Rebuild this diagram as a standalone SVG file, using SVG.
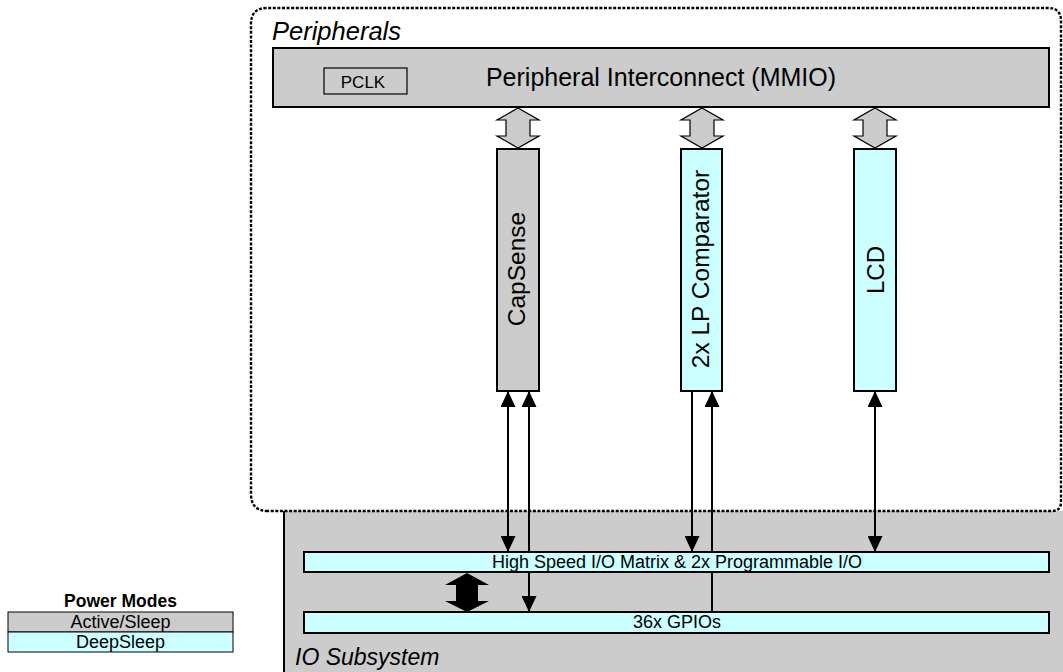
<svg xmlns="http://www.w3.org/2000/svg" width="1063" height="672" viewBox="0 0 1063 672">
<defs>
<marker id="ah" viewBox="0 0 16 16" refX="16" refY="8" markerWidth="16" markerHeight="15" markerUnits="userSpaceOnUse" orient="auto-start-reverse" preserveAspectRatio="none">
<path d="M0,0 L16,8 L0,16 z" fill="#000"/>
</marker>
</defs>
<style>
.gray{fill:#cccccc;stroke:#000;stroke-width:2}
.cyan{fill:#ccffff;stroke:#000;stroke-width:2}
.t{font-family:"Liberation Sans",Arial,sans-serif;fill:#000}
.it{font-family:"Liberation Sans",Arial,sans-serif;font-style:italic;fill:#000}
.conn{stroke:#000;stroke-width:2;fill:none}
.hollow{fill:#cccccc;stroke:#000;stroke-width:1.2}
</style>
<rect width="1063" height="672" fill="#fff"/>

<g id="io-subsystem">
<rect x="284" y="511" width="780" height="162" fill="#cccccc"/>
<line x1="284" y1="511" x2="284" y2="672" stroke="#000" stroke-width="2"/>
<text class="it" x="295" y="665" font-size="23">IO Subsystem</text>
</g>

<g id="peripherals">
<path d="M268,511 Q251,511 251,494 L251,24 Q251,8 267,8 L1048,8 Q1061,8 1061,21 L1061,502 Q1061,511 1052,511 Z" fill="none" stroke="#000" stroke-width="2.4" stroke-dasharray="3,1.6"/>
<text class="it" x="272" y="40" font-size="25.5">Peripherals</text>
</g>

<g id="connectors">
<line class="conn" x1="508" y1="391" x2="508" y2="552" marker-start="url(#ah)" marker-end="url(#ah)"/>
<line class="conn" x1="529" y1="391" x2="529" y2="612" marker-start="url(#ah)" marker-end="url(#ah)"/>
<line class="conn" x1="692" y1="391" x2="692" y2="552" marker-end="url(#ah)"/>
<line class="conn" x1="712" y1="612" x2="712" y2="391" marker-end="url(#ah)"/>
<line class="conn" x1="875" y1="391" x2="875" y2="552" marker-start="url(#ah)" marker-end="url(#ah)"/>
<path class="hollow" d="M518,108 L539,120 L530,120 L530,136 L539,136 L518,148 L497,136 L506,136 L506,120 L497,120 Z"/>
<path class="hollow" d="M702,108 L723,120 L714,120 L714,136 L723,136 L702,148 L681,136 L690,136 L690,120 L681,120 Z"/>
<path class="hollow" d="M875,108 L896,120 L887,120 L887,136 L896,136 L875,148 L854,136 L863,136 L863,120 L854,120 Z"/>
<path d="M467,573 L489,585 L478,585 L478,601 L489,601 L467,612 L445,601 L456,601 L456,585 L445,585 Z" fill="#000"/>
</g>

<g id="interconnect">
<rect class="gray" x="273" y="48" width="776" height="59"/>
<text class="t" x="661" y="86" font-size="25" text-anchor="middle">Peripheral Interconnect (MMIO)</text>
</g>
<g id="pclk">
<rect x="324" y="68" width="83" height="26" fill="none" stroke="#000" stroke-width="1.2"/>
<text class="t" x="363" y="88" font-size="17" text-anchor="middle">PCLK</text>
</g>

<g id="capsense">
<rect class="gray" x="497" y="149" width="42" height="242"/>
<text class="t" font-size="24.5" text-anchor="middle" transform="translate(525,269) rotate(-90)">CapSense</text>
</g>
<g id="lpcomp">
<rect class="cyan" x="681" y="149" width="41" height="242"/>
<text class="t" font-size="24.5" text-anchor="middle" transform="translate(709,269) rotate(-90)">2x LP Comparator</text>
</g>
<g id="lcd">
<rect class="cyan" x="854" y="149" width="42" height="242"/>
<text class="t" font-size="24" text-anchor="middle" transform="translate(884,270) rotate(-90)">LCD</text>
</g>

<g id="hsio">
<rect class="cyan" x="304" y="552" width="745" height="20"/>
<text class="t" x="677" y="568" font-size="18" text-anchor="middle">High Speed I/O Matrix &amp; 2x Programmable I/O</text>
</g>
<g id="gpio">
<rect class="cyan" x="304" y="612" width="745" height="21"/>
<text class="t" x="677" y="628" font-size="18" text-anchor="middle">36x GPIOs</text>
</g>

<g id="legend">
<text class="t" x="120.5" y="607" font-size="17.5" font-weight="bold" text-anchor="middle">Power Modes</text>
<rect x="8" y="612" width="225" height="20" fill="#cccccc" stroke="#000" stroke-width="1"/>
<text class="t" x="120.5" y="628" font-size="18" text-anchor="middle">Active/Sleep</text>
<rect x="8" y="632" width="225" height="20" fill="#ccffff" stroke="#000" stroke-width="1"/>
<text class="t" x="120.5" y="648" font-size="18" text-anchor="middle">DeepSleep</text>
</g>
</svg>
